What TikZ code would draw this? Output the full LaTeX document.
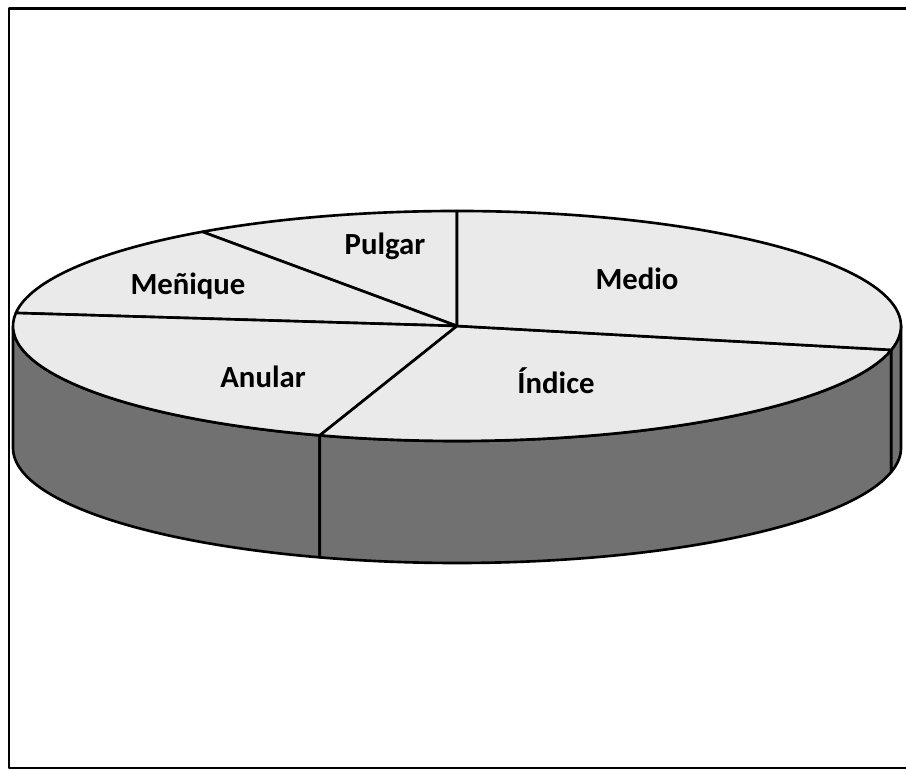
\documentclass[tikz,border=0pt]{standalone}
\usepackage{fontspec}
\setmainfont{Carlito}
\usepackage{xcolor}
\definecolor{topgray}{HTML}{EAEAEA}
\definecolor{sidegray}{HTML}{717171}

\begin{document}
\begin{tikzpicture}[x=0.02cm,y=0.02cm,line join=round,
    top slice/.style={fill=topgray,draw,line width=1.5pt},
    side slice/.style={fill=sidegray,draw,line width=1.5pt},
    slice label/.style={anchor=base,font=\bfseries\fontsize{17.5}{20}\selectfont}]
    \useasboundingbox (0,0) rectangle (906,770);
    \draw[line width=1.7pt] (906,761) -- (9,761) -- (9,2) -- (906,2);

    % centre of the top face
    \coordinate (c) at (457,444);

    % side walls (front half only)
    \foreach \a/\b in {180/252,252/348,348/360}
        \draw[side slice] (c) ++(\a:444 and 115)
            arc[start angle=\a,end angle=\b,x radius=444,y radius=115]
            -- ++(0,-122)
            arc[start angle=\b,end angle=\a,x radius=444,y radius=115] -- cycle;

    % top face
    \foreach \a/\b in {90/125,125/173.5,173.5/252,252/348,348/450}
        \draw[top slice] (c) -- ++(\a:444 and 115)
            arc[start angle=\a,end angle=\b,x radius=444,y radius=115] -- cycle;

    \node[slice label] (pulgar) at (385,515) {Pulgar};
    \node[slice label] (menique) at (188,475) {Meñique};
    \node[slice label] (medio) at (637,480) {Medio};
    \node[slice label] (anular) at (263,382) {Anular};
    \node[slice label] (indice) at (556,376) {Índice};
\end{tikzpicture}
\end{document}
